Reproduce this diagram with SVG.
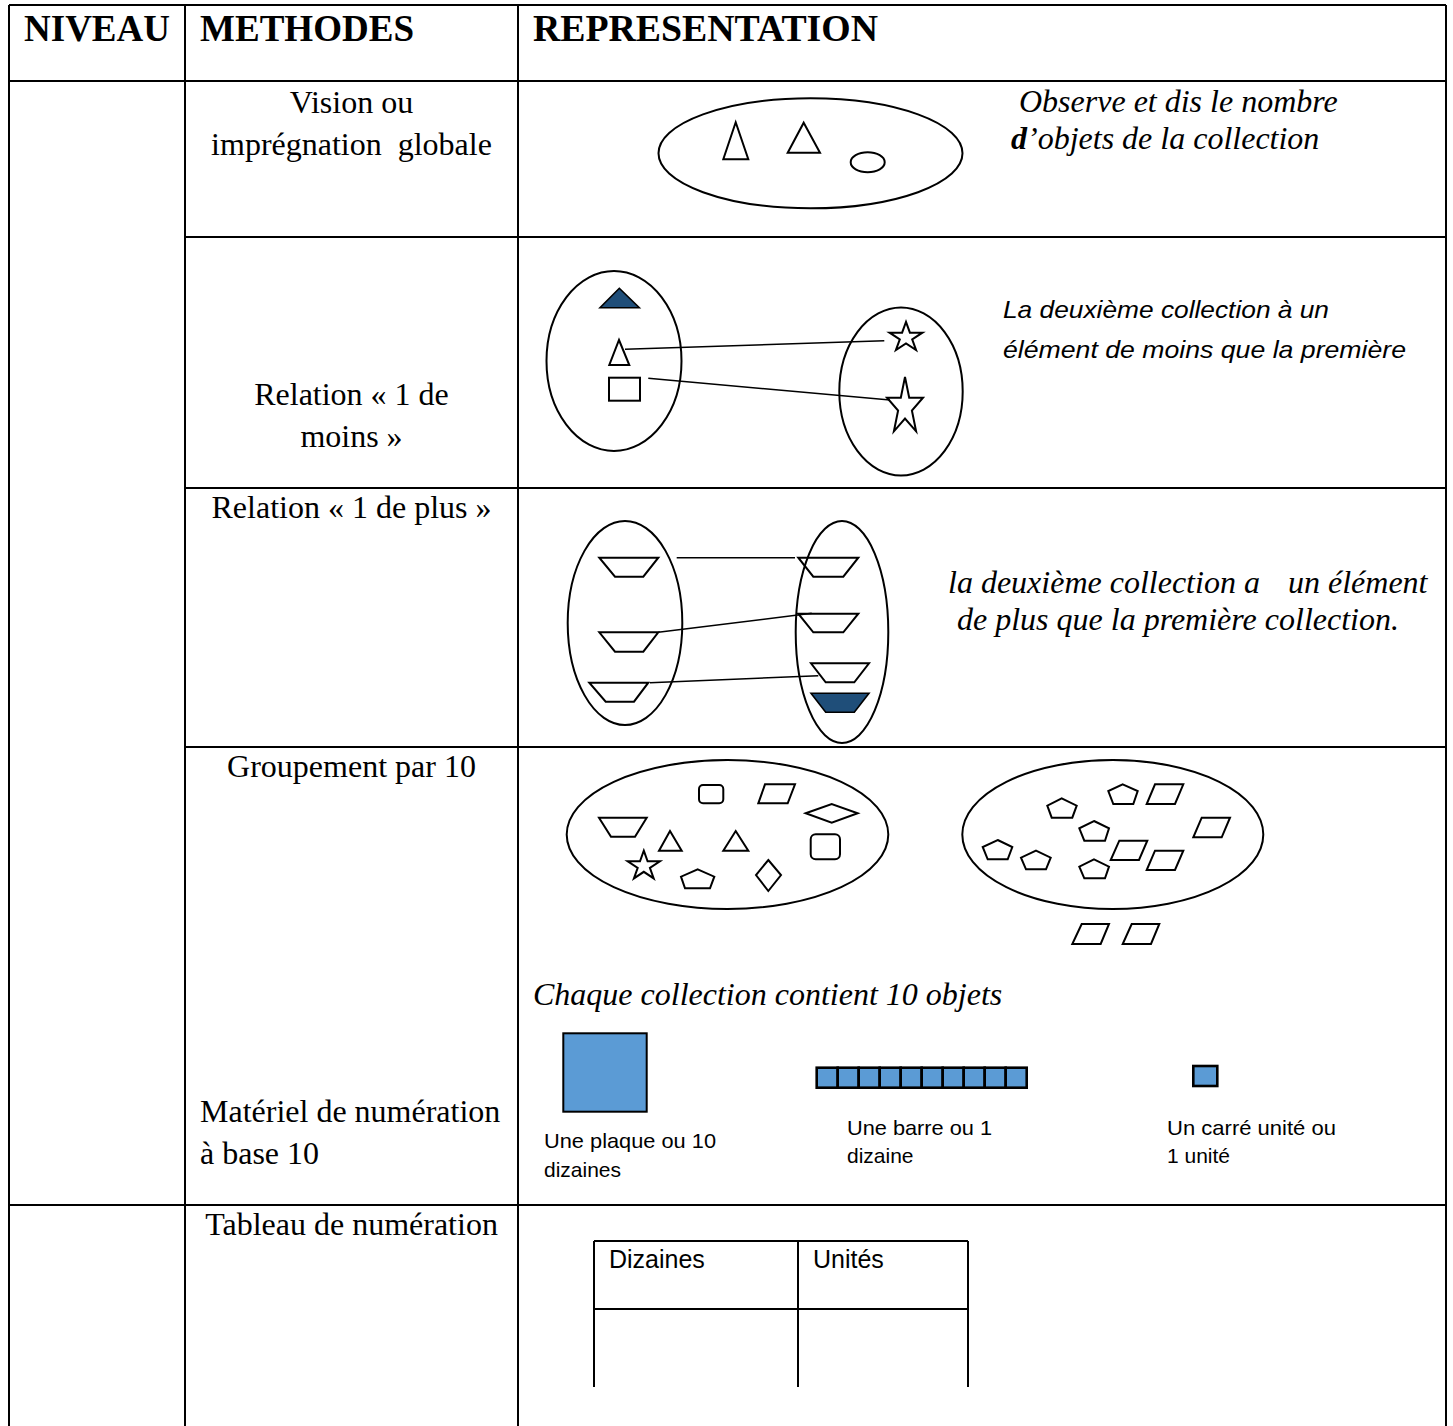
<svg xmlns="http://www.w3.org/2000/svg" width="1453" height="1426" viewBox="0 0 1453 1426">
<style>
.grid{stroke:#000;stroke-width:2;fill:none}
.sh{stroke:#000;stroke-width:2;fill:none;stroke-linejoin:miter}
.thin{stroke:#000;stroke-width:1.6;fill:none}
.dk{fill:#1F4E79;stroke:#000;stroke-width:1.6}
.bl{fill:#5B9BD5;stroke:#000;stroke-width:2}
.blk{fill:#5B9BD5;stroke:#000;stroke-width:2.6}
.hd{font-family:"Liberation Serif",serif;font-weight:bold;font-size:37px;fill:#000}
.sr{font-family:"Liberation Serif",serif;font-size:32px;fill:#000}
.si{font-family:"Liberation Serif",serif;font-style:italic;font-size:32px;fill:#000}
.sa{font-family:"Liberation Sans",Arial,sans-serif;font-size:21px;fill:#000}
.sai{font-family:"Liberation Sans",Arial,sans-serif;font-style:italic;font-size:24px;fill:#000}
.tb{font-family:"Liberation Sans",Arial,sans-serif;font-size:25px;fill:#000}
.ln{stroke:#000;stroke-width:2;fill:none}
</style>
<rect x="0" y="0" width="1453" height="1426" fill="#fff"/>
<g id="table-grid">
<line class="grid" x1="9" y1="5" x2="1446" y2="5"/>
<line class="grid" x1="9" y1="5" x2="9" y2="1426"/>
<line class="grid" x1="185" y1="5" x2="185" y2="1426"/>
<line class="grid" x1="518" y1="5" x2="518" y2="1426"/>
<line class="grid" x1="1446" y1="5" x2="1446" y2="1426"/>
<line class="grid" x1="9" y1="81" x2="1446" y2="81"/>
<line class="grid" x1="185" y1="237" x2="1446" y2="237"/>
<line class="grid" x1="185" y1="488" x2="1446" y2="488"/>
<line class="grid" x1="185" y1="747" x2="1446" y2="747"/>
<line class="grid" x1="9" y1="1205" x2="1446" y2="1205"/>
</g>
<g id="header">
<text class="hd" x="24" y="41" textLength="146" lengthAdjust="spacingAndGlyphs">NIVEAU</text>
<text class="hd" x="200" y="41" textLength="214" lengthAdjust="spacingAndGlyphs">METHODES</text>
<text class="hd" x="533" y="41" textLength="345" lengthAdjust="spacingAndGlyphs">REPRESENTATION</text>
</g>
<g id="methods">
<text class="sr" x="351.5" y="113" text-anchor="middle">Vision ou</text>
<text class="sr" x="351.5" y="155" text-anchor="middle" xml:space="preserve">imprégnation  globale</text>
<text class="sr" x="351.5" y="405" text-anchor="middle">Relation « 1 de</text>
<text class="sr" x="351.5" y="447" text-anchor="middle">moins »</text>
<text class="sr" x="351.5" y="518" text-anchor="middle">Relation « 1 de plus »</text>
<text class="sr" x="351.5" y="777" text-anchor="middle">Groupement par 10</text>
<text class="sr" x="200" y="1122">Matériel de numération</text>
<text class="sr" x="200" y="1164">à base 10</text>
<text class="sr" x="351.5" y="1235" text-anchor="middle">Tableau de numération</text>
</g>
<g id="rep-vision">
<ellipse class="sh" cx="810.5" cy="153.3" rx="152" ry="55"/>
<polygon class="sh" points="735.7,122.3 748.3,159.3 723.3,159.3"/>
<polygon class="sh" points="803.7,122.7 820,152.7 787.7,152.7"/>
<ellipse class="sh" cx="867.7" cy="162.3" rx="17" ry="10"/>
<text class="si" x="1019" y="112">Observe et dis le nombre</text>
<text class="si" x="1011" y="149"><tspan font-weight="bold">d</tspan>’objets de la collection</text>
</g>
<g id="rep-moins">
<ellipse class="sh" cx="614" cy="361" rx="67.5" ry="90"/>
<ellipse class="sh" cx="901" cy="391.5" rx="61.7" ry="84"/>
<polygon class="dk" points="619.3,288.3 639.3,307.7 600,307.7"/>
<polygon class="sh" points="619,340 629.3,365 609.3,365"/>
<rect class="sh" x="609" y="377.7" width="31" height="23"/>
<polygon class="sh" points="906,321.9 909.9,332.7 922.4,332.7 912.2,339.3 916.1,350.1 906,343.5 895.9,350.1 899.8,339.3 889.6,332.7 902.1,332.7"/>
<polygon class="sh" points="905,377 909.2,397.7 923,397.7 911.9,410.5 916.1,431.3 905,418.5 893.9,431.3 898.1,410.5 887,397.7 900.8,397.7"/>
<text class="sai" x="1003" y="318" textLength="326" lengthAdjust="spacingAndGlyphs">La deuxième collection à un</text>
<text class="sai" x="1003" y="358" textLength="403" lengthAdjust="spacingAndGlyphs">élément de moins que la première</text>
</g>
<g id="rep-plus">
<ellipse class="sh" cx="625" cy="623" rx="57.3" ry="102"/>
<ellipse class="sh" cx="842" cy="632" rx="46.3" ry="111"/>
<polygon class="sh" points="599.3,557.7 658.3,557.7 643.3,576.7 615,576.7"/>
<polygon class="sh" points="599.3,632.3 658.3,632.3 643.3,651.7 615,651.7"/>
<polygon class="sh" points="589.3,682.7 648.3,682.7 634,701.7 605.7,701.7"/>
<polygon class="sh" points="798.3,557.7 858.3,557.7 843.3,576.7 813.3,576.7"/>
<polygon class="sh" points="798.3,613.7 858.3,613.7 843.3,632.3 813.3,632.3"/>
<polygon class="sh" points="811,663.3 869,663.3 854.3,682.3 825.7,682.3"/>
<polygon class="dk" points="811,693.3 869,693.3 854.3,712.3 825.7,712.3"/>
<text class="si" x="948" y="593">la deuxième collection a<tspan x="1288">un élément</tspan></text>
<text class="si" x="957" y="630">de plus que la première collection.</text>
</g>
<g id="rep-groupement">
<ellipse class="sh" cx="727.5" cy="834.5" rx="160.8" ry="74.5"/>
<rect class="sh" x="699" y="785" width="24.3" height="18.3" rx="4"/>
<polygon class="sh" points="765,784.3 795,784.3 787.7,803.3 758.3,803.3"/>
<polygon class="sh" points="805.7,813.3 831.7,804 857.7,813.3 831.7,822.7"/>
<polygon class="sh" points="599,817.7 646.7,817.7 635,836.7 611,836.7"/>
<polygon class="sh" points="670,831 681.7,850.7 659,850.7"/>
<polygon class="sh" points="735.7,831 748.3,850.7 723.3,850.7"/>
<rect class="sh" x="810.7" y="834.3" width="29.3" height="25" rx="5"/>
<polygon class="sh" points="643.8,850.7 647.6,861.3 659.9,861.3 649.9,867.8 653.7,878.4 643.8,871.8 633.9,878.4 637.7,867.8 627.7,861.3 640,861.3"/>
<polygon class="sh" points="697.7,869.3 714.3,876.7 710,888.3 685,888.3 681,876.7"/>
<polygon class="sh" points="768.3,860 781,875 768.3,891 756,875"/>
<ellipse class="sh" cx="1112.8" cy="834.5" rx="150.5" ry="74.5"/>
<polygon class="sh" points="1122.7,784.3 1137.7,791 1133.3,804 1113.3,804 1108.3,791"/>
<polygon class="sh" points="1061.7,798.3 1076.7,805.7 1072.3,817.7 1051.7,817.7 1047.3,805.7"/>
<polygon class="sh" points="1094,821 1109,828.3 1105,840.7 1084.3,840.7 1079.3,828.3"/>
<polygon class="sh" points="997.7,840 1012.3,847 1007.7,859.3 987.7,859.3 982.7,847"/>
<polygon class="sh" points="1036,850.7 1050.7,857.7 1046,869.3 1026,869.3 1021,857.7"/>
<polygon class="sh" points="1094,859.3 1109,866.7 1105,878.3 1084.3,878.3 1079.3,866.7"/>
<polygon class="sh" points="1155,784.3 1183.3,784.3 1175,804 1146.7,804"/>
<polygon class="sh" points="1201.7,817.7 1230,817.7 1221.7,837.3 1193.3,837.3"/>
<polygon class="sh" points="1119.3,840.7 1147.3,840.7 1139,860 1110.7,860"/>
<polygon class="sh" points="1155,850.7 1183.3,850.7 1175,870 1146.7,870"/>
<polygon class="sh" points="1081.7,924 1109,924 1100.7,944 1072.3,944"/>
<polygon class="sh" points="1131.7,924 1159.3,924 1151,944 1122.7,944"/>
<text class="si" x="533" y="1005">Chaque collection contient 10 objets</text>
</g>
<g id="rep-base10">
<rect class="bl" x="563.3" y="1033.3" width="83.4" height="78.4"/>
<g id="bar">
<rect class="blk" x="816.7" y="1067.7" width="21" height="20"/>
<rect class="blk" x="837.7" y="1067.7" width="21" height="20"/>
<rect class="blk" x="858.7" y="1067.7" width="21" height="20"/>
<rect class="blk" x="879.7" y="1067.7" width="21" height="20"/>
<rect class="blk" x="900.7" y="1067.7" width="21" height="20"/>
<rect class="blk" x="921.7" y="1067.7" width="21" height="20"/>
<rect class="blk" x="942.7" y="1067.7" width="21" height="20"/>
<rect class="blk" x="963.7" y="1067.7" width="21" height="20"/>
<rect class="blk" x="984.7" y="1067.7" width="21" height="20"/>
<rect class="blk" x="1005.7" y="1067.7" width="21" height="20"/>
</g>
<rect class="blk" x="1193.3" y="1066" width="24" height="20"/>
<text class="sa" x="544" y="1148" textLength="172" lengthAdjust="spacingAndGlyphs">Une plaque ou 10</text>
<text class="sa" x="544" y="1177">dizaines</text>
<text class="sa" x="847" y="1135" textLength="145" lengthAdjust="spacingAndGlyphs">Une barre ou 1</text>
<text class="sa" x="847" y="1163">dizaine</text>
<text class="sa" x="1167" y="1135" textLength="169" lengthAdjust="spacingAndGlyphs">Un carré unité ou</text>
<text class="sa" x="1167" y="1163">1 unité</text>
</g>
<g id="rep-tableau">
<line class="ln" x1="594" y1="1241" x2="968" y2="1241"/>
<line class="ln" x1="594" y1="1309" x2="968" y2="1309"/>
<line class="ln" x1="594" y1="1241" x2="594" y2="1387"/>
<line class="ln" x1="798" y1="1241" x2="798" y2="1387"/>
<line class="ln" x1="968" y1="1241" x2="968" y2="1387"/>
<text class="tb" x="609" y="1268">Dizaines</text>
<text class="tb" x="813" y="1268">Unités</text>
</g>
<g id="connectors">
<line class="thin" x1="625" y1="349.3" x2="884.3" y2="340.7"/>
<line class="thin" x1="648.3" y1="378.3" x2="890" y2="400"/>
<line class="thin" x1="676.7" y1="557.7" x2="795" y2="557.7"/>
<line class="thin" x1="658.3" y1="632.3" x2="811.7" y2="613.3"/>
<line class="thin" x1="650" y1="682.7" x2="818.3" y2="675.7"/>
</g>
</svg>
